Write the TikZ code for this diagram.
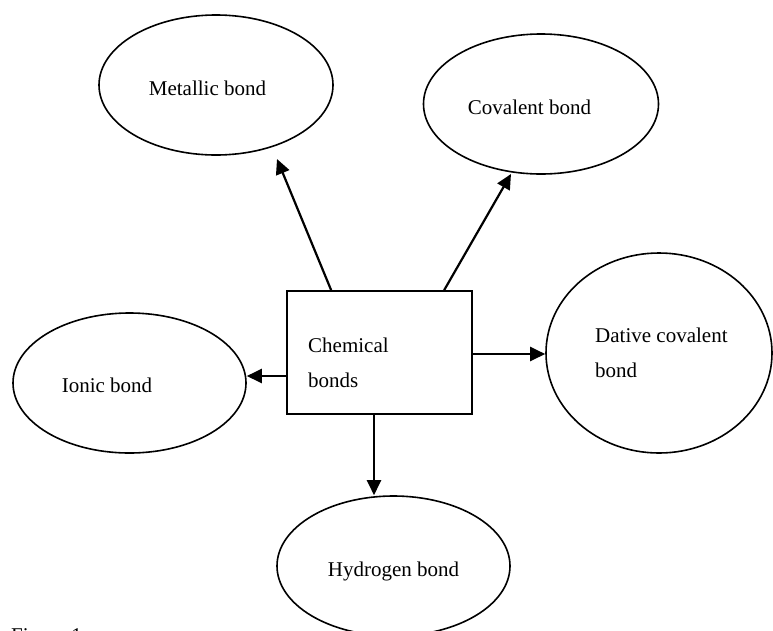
\documentclass[tikz,border=0pt]{standalone}
\usepackage{fontspec}
\setmainfont{Liberation Serif}
\usetikzlibrary{shapes.geometric,arrows.meta}
\begin{document}
\begin{tikzpicture}[x=1pt,y=-1pt,
  bubble/.style={draw,ellipse,line width=1.6pt,inner sep=0pt},
  lbl/.style={font=\fontsize{21}{25}\selectfont,inner sep=0pt,anchor=base},
  arr/.style={line width=2.2pt,-{Triangle[length=15pt,width=14pt]}}]
\useasboundingbox (0,0) rectangle (773,630);
\clip (0,0) rectangle (773,630);
\fill[white] (0,0) rectangle (773,630);
% ellipses
\node[bubble,minimum width=234pt,minimum height=140pt] (met) at (216,85) {};
\node[bubble,minimum width=235pt,minimum height=140pt] (cov) at (541,104) {};
\node[bubble,minimum width=233pt,minimum height=140pt] (ion) at (129.5,383) {};
\node[bubble,minimum width=226pt,minimum height=200pt] (dat) at (659,353) {};
\node[bubble,minimum width=233pt,minimum height=140pt] (hyd) at (393.5,566) {};
% box
\node[draw,line width=1.7pt,minimum width=185pt,minimum height=123pt,inner sep=0pt] (box) at (379.5,352.5) {};
% texts
\node[lbl] (metT) at (207.5,95) {Metallic bond};
\node[lbl] (covT) at (529.5,114) {Covalent bond};
\node[lbl] (ionT) at (107,392) {Ionic bond};
\node[lbl] (hydT) at (393.5,576) {Hydrogen bond};
\node[lbl,anchor=base west] (chemT) at (308,352) {Chemical};
\node[lbl,anchor=base west] (bondsT) at (308,387) {bonds};
\node[lbl,anchor=base west] (datT) at (595,342) {Dative covalent};
\node[lbl,anchor=base west] (datT2) at (595,377) {bond};
\node[lbl,anchor=base west] (fig) at (11,642) {Figure 1};
% arrow ends
\coordinate (mtip) at (277,159);
\coordinate (ctip) at (511,174);
\draw[arr] ([xshift=45pt]box.north west) -- (mtip);
\draw[arr] ([xshift=158pt]box.north west) -- (ctip);
\draw[arr] (box.west |- 0,376) -- (ion.east |- 0,376);
\draw[arr] (box.east |- 0,354) -- (dat.west |- 0,354);
\draw[arr] (box.south -| 374,0) -- (hyd.north -| 374,0);
\end{tikzpicture}
\end{document}
